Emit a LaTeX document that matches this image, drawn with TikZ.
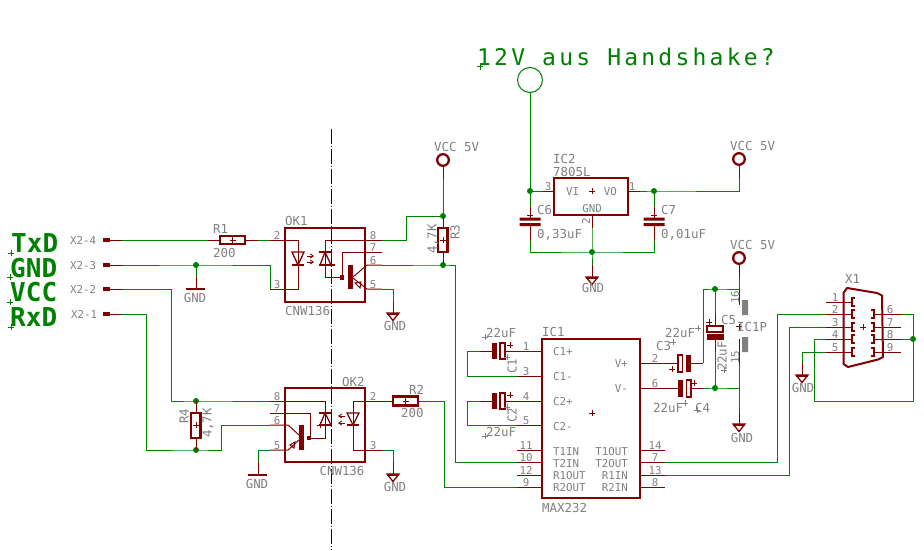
\documentclass[tikz,border=0pt]{standalone}
\usepackage{fontspec}
\usetikzlibrary{arrows.meta}
\newfontfamily\lf{DejaVu Sans Mono}
\newfontfamily\tf[LetterSpace=14]{DejaVu Sans Mono}
\definecolor{mar}{RGB}{128,0,0}
\definecolor{grn}{RGB}{0,128,0}
\definecolor{gry}{RGB}{128,128,128}
\definecolor{nav}{RGB}{0,0,128}
\tikzset{
 wire/.style={draw=grn,line width=1pt},
 pin/.style={draw=mar,line width=1pt},
 sym/.style={draw=mar,line width=2.4pt,line join=miter},
 hsym/.style={draw=mar,line width=1.3pt},
 tip/.style={mar,line width=.9pt,-{Straight Barb[length=3pt,width=4pt]}},
 lbl/.style={font=\lf\fontsize{10.8}{12}\selectfont,text=gry,inner sep=0pt,text height=8pt,text depth=0pt,anchor=west},
 big/.style={font=\lf\fontsize{12.4}{13}\selectfont,text=gry,inner sep=0pt,text height=9pt,text depth=0pt,anchor=west},
 sig/.style={font=\lf\bfseries\fontsize{26}{26}\selectfont,text=grn,inner sep=0pt,text height=19pt,text depth=0pt,anchor=west},
 vert/.style={rotate=90,anchor=center},
}
\newcommand\tl[4][]{\node[lbl,#1] (#2) at (#3) {#4};}
\newcommand\tb[4][]{\node[big,#1] (#2) at (#3) {#4};}
\newcommand\jct[2]{\coordinate (#1) at (#2); \fill[grn] (#1) circle (3pt);}
\newcommand\pt[2]{\coordinate (#1) at (#2);}
\newcommand\mk[3][gry]{\draw[#1,line width=1pt] (#2-3,#3) -- (#2+3,#3) (#2,#3-3) -- (#2,#3+3);}
\newcommand\gnd[3]{\coordinate (#1) at (#2,#3); \draw[hsym] (#1) ++(-6,0) -- ++(12,0) -- ++(-6,7.5) -- cycle; \draw[sym,line width=2pt] (#1) ++(-6,.5) -- ++(12,0);}
\newcommand\vcc[3]{\coordinate (#1) at (#2,#3); \draw[mar,line width=2.3pt] (#1) circle (5.8pt);}
\begin{document}
\begin{tikzpicture}[x=1pt,y=-1pt]
\useasboundingbox (0,0) rectangle (924,551);
\fill[white] (0,0) rectangle (924,551);
% isolation axis
\pt{axT}{331,129}\pt{axB}{331,550}
\draw[nav,line width=1pt,dash pattern=on 15pt off 1.5pt on 1.5pt off 2pt] (axT) -- (axB);
% ---- signal labels
\node[sig] (txd) at (11,243) {TxD};
\node[sig] (sgnd) at (10,268) {GND};
\node[sig] (vccs) at (10,292) {VCC};
\node[sig] (rxd) at (10,317) {RxD};
\mk[grn]{11}{253}\mk[grn]{10}{277}\mk[grn]{10}{302}\mk[grn]{11}{327}
% ---- connector X2
\foreach \n/\y in {a/240,b/265,c/289,d/314}{
 \pt{x\n}{103,\y}\pt{xe\n}{122,\y}
 \fill[mar] (103,\y-2) rectangle (110,\y+2);
 \draw[pin] (x\n) -- (xe\n);
}
\tl{x24}{70,240}{X2-4}\tl{x23}{70,265}{X2-3}\tl{x22}{70,289}{X2-2}\tl{x21}{71,314}{X2-1}
% ---- R1
\pt{r1l}{208,240}\pt{r1a}{220,240}\pt{r1b}{245,240}\pt{r1r}{258,240}
\draw[pin] (r1l) -- (r1a) (r1b) -- (r1r);
\draw[sym] (220,236) rectangle (245,244);
\mk[mar]{232.5}{240}
\tb{r1t}{213,229}{R1}\tb{r1v}{213,253}{200}
\draw[wire] (xea) -- (r1l);
% ---- GND net
\jct{j1}{196,265}
\pt{ok1p2}{270,240}\pt{ok1p3}{270,289}\pt{ok1p3w}{270,265}
\draw[wire] (r1r) -- (ok1p2);
\draw[wire] (xeb) -- (j1) -- (ok1p3w) -- (ok1p3);
\pt{g1s}{196,277}\pt{g1}{196,289}
\draw[wire] (j1) -- (g1s);
\draw[pin] (g1s) -- (g1);
\draw[mar,line width=2.4pt] (186,289) -- (205,289);
\tb[anchor=center]{g1t}{195,298}{GND}
% ---- OK1
\draw[sym] (285,228) rectangle (365,302);
\tb{ok1t}{285,221}{OK1}\tb{ok1n}{285,311}{CNW136}
\pt{a8}{382,240}\pt{a7}{382,252}\pt{a6}{382,265}\pt{a5}{382,289}
\draw[pin] (ok1p2) -- (298,240) -- (298,289) -- (ok1p3);
\draw[hsym] (292,252) -- (304,252) -- (298,265) -- cycle;
\draw[sym] (292,265) -- (304,265);
\draw[tip] (307,256) -- (314,256);
\draw[tip] (307,262) -- (314,262);
\draw[pin] (a8) -- (325,240) -- (325,277) -- (342,277);
\draw[hsym] (320,265) -- (331,265) -- (325,252) -- cycle;
\draw[sym,line width=1.6pt] (319,252) -- (331,252);
\draw[sym,line width=1.6pt] (319,265) -- (335,265);
\draw[pin] (a7) -- (342,252) -- (342,277);
\fill[mar] (340,275) rectangle (344,280);
\fill[mar] (348,265) rectangle (353,289);
\draw[pin] (a6) -- (367,265) -- (353,277);
\draw[pin] (a5) -- (367,289) -- (353,278);
\draw[mar,line width=1pt] (355,283) -- (361,282) -- (360,288) -- cycle;
\tl[anchor=center]{n2a}{277,235}{2}\tl[anchor=center]{n3a}{277,284}{3}
\tl[anchor=center]{n8a}{373,235}{8}\tl[anchor=center]{n7a}{373,247}{7}
\tl[anchor=center]{n6a}{373,260}{6}\tl[anchor=center]{n5a}{373,284}{5}
% ---- R3 + VCC
\vcc{v1}{443}{160}
\tb{v1t}{434,147}{VCC 5V}
\pt{v1b}{443,178}
\jct{j2}{443,216}\jct{j3}{443,265}
\pt{r3a}{443,228}\pt{r3b}{443,252}
\draw[pin] (443,166) -- (v1b);
\draw[wire] (v1b) -- (j2);
\draw[pin] (j2) -- (r3a) (r3b) -- (j3);
\draw[sym] (438,228) rectangle (447.5,252);
\mk[mar]{443}{240}
\tb[vert]{r3t}{455,232}{R3}\tb[vert]{r3v}{432,239}{4,7K}
\draw[wire] (a8) -- (406,240) -- (406,216) -- (j2);
\pt{i10}{517,462}
\draw[wire] (a6) -- (j3) -- (455,265) -- (455,462) -- (i10);
% OK1 GND
\gnd{g2}{393}{313}
\tb[anchor=center]{g2t}{395,326}{GND}
\pt{g2s}{393,302}
\draw[wire] (a5) -- (393,289) -- (g2s);
\draw[pin] (g2s) -- (g2);
% ---- wires to OK2
\pt{b8}{270,401}\pt{b7}{270,413}\pt{b6}{270,425}\pt{b5}{270,450}
\jct{j4}{196,401}\jct{j5}{196,450}
\draw[wire] (xec) -- (171,289) -- (171,401) -- (j4) -- (b8);
\draw[wire] (xed) -- (146.5,314) -- (146.5,450) -- (j5) -- (221,450) -- (221,425) -- (b6);
% R4
\draw[pin] (j4) -- (196,413) (196,438) -- (j5);
\draw[sym] (191,413) rectangle (200.5,438);
\mk[mar]{196}{425}
\tb[vert]{r4t}{184,416}{R4}\tb[vert]{r4v}{207,423}{4,7K}
% ---- OK2
\draw[sym] (285,388) rectangle (365,462);
\tb{ok2t}{342,382}{OK2}\tb[anchor=center]{ok2n}{342,471}{CNW136}
\pt{c2}{382,401}\pt{c3}{382,450}
\draw[pin] (b8) -- (325,401) -- (325,438) -- (309,438);
\draw[pin] (b7) -- (310,413) -- (310,438);
\fill[mar] (307,436) rectangle (311,440);
\draw[hsym] (320,425) -- (331,425) -- (325,413) -- cycle;
\draw[sym,line width=1.6pt] (319,413) -- (332,413);
\draw[sym,line width=1.6pt] (319,425) -- (332,425);
\mk[mar]{320}{425}
\fill[mar] (299,425) rectangle (303.5,450);
\draw[pin] (b6) -- (288,425) -- (299,435);
\draw[pin] (b5) -- (288,450) -- (299,440);
\draw[mar,line width=1pt] (290,445) -- (295,442) -- (294,448) -- cycle;
\draw[pin] (c2) -- (353,401) -- (353,450) -- (c3);
\draw[hsym] (347,413) -- (359,413) -- (353,425) -- cycle;
\draw[sym,line width=1.8pt] (347,425) -- (359,425);
\draw[tip] (345,416) -- (338,416);
\draw[tip] (345,423) -- (338,423);
\tl[anchor=center]{n8b}{277,396}{8}\tl[anchor=center]{n7b}{277,408}{7}
\tl[anchor=center]{n6b}{277,420}{6}\tl[anchor=center]{n5b}{277,445}{5}
\tl[anchor=center]{n2b}{373,396}{2}\tl[anchor=center]{n3b}{373,445}{3}
% GND left
\pt{g3s}{258,462}\pt{g3}{258,475}
\draw[wire] (b5) -- (258,450) -- (g3s);
\draw[pin] (g3s) -- (g3);
\draw[mar,line width=2.4pt] (248,475) -- (267,475);
\tb[anchor=center]{g3t}{257,484}{GND}
% GND right
\gnd{g4}{393}{474}
\tb[anchor=center]{g4t}{395,487}{GND}
\pt{g4s}{393,462}
\draw[wire] (c3) -- (393,450) -- (g4s);
\draw[pin] (g4s) -- (g4);
% R2
\draw[pin] (c2) -- (393,401) (418,401) -- (420,401);
\draw[sym] (393,396.5) rectangle (418,405.5);
\mk[mar]{405.5}{401}
\tb{r2t}{409,390}{R2}\tb{r2v}{401,413}{200}
\pt{i9}{517,487}
\draw[wire] (420,401) -- (444,401) -- (444,487) -- (i9);
% ---- IC1
\draw[sym] (542,339) rectangle (640,498);
\tb{ic1t}{542,332}{IC1}\tb{ic1n}{542,508}{MAX232}
\mk[mar]{592}{413}
\foreach \y in {351,376,401,425,450,462,475,487}{\draw[pin] (517,\y) -- (542,\y);}
\foreach \y in {363,388,450,462,475,487}{\draw[pin] (640,\y) -- (665,\y);}
\foreach \n/\tx/\y in {a/C1+/351,b/C1-/376,c/C2+/401,d/C2-/426,e/T1IN/451,f/T2IN/463,g/R1OUT/475,h/R2OUT/487}{\tl{il\n}{553,\y}{\tx}}
\foreach \n/\tx/\y in {a/V+/363,b/V-/388,c/T1OUT/451,d/T2OUT/463,e/R1IN/475,f/R2IN/487}{\tl[anchor=east]{ir\n}{628,\y}{\tx}}
\foreach \tx/\y in {1/346,3/371,4/396,5/420,11/445,10/457,12/470,9/482}{\tl[anchor=center]{pl\tx}{526,\y}{\tx}}
\foreach \tx/\y in {2/358,6/383,14/445,7/457,13/470,8/482}{\tl[anchor=center]{pr\tx}{655,\y}{\tx}}
% C1 C2
\foreach \n/\y/\z in {a/351/376,b/401/425}{
 \fill[mar] (492,\y-8) rectangle (497,\y+8);
 \draw[hsym,line width=1.8pt] (500,\y-8) rectangle (505,\y+8);
 \draw[pin] (505,\y) -- (517,\y) (492,\y) -- (480,\y);
 \pt{cc\n}{480,\y}\pt{ce\n}{517,\z}
 \draw[wire] (cc\n) -- (467,\y) -- (467,\z) -- (ce\n);
}
\mk[mar]{510}{345}\mk[mar]{510}{395}\mk{507}{357}\mk{507}{407}\mk{485}{337}\mk{485}{436}
\tb{c1v}{486,333}{22uF}\tb{c2v}{486,432}{22uF}
\tb[vert]{c1t}{512,366}{C1}\tb[vert]{c2t}{512,415}{C2}
% ---- C3 C4 C5, IC1P
\vcc{v3}{739}{258}
\tb{v3t}{730,245}{VCC 5V}
\pt{t1}{739,277}\jct{j6}{715,289}\pt{t2}{739,289}\pt{t3}{739,305}
\pt{t4}{739,339}\pt{t5}{739,364}\jct{j7}{715,388}\pt{t6}{739,388}\pt{t7}{739,413}
\draw[pin] (739,264) -- (t1) (t2) -- (t3) (t4) -- (t5);
\draw[wire] (t1) -- (t2) -- (j6) -- (703,289) -- (703,363);
\draw[wire] (t5) -- (t6) -- (j7) -- (703,388);
\draw[wire] (t6) -- (t7);
\gnd{g5}{739}{424}
\draw[pin] (t7) -- (g5);
\tb[anchor=center]{g5t}{742,438}{GND}
\draw[pin] (665,363) -- (678,363) (691,363) -- (703,363);
\draw[hsym,line width=1.8pt] (678,355) rectangle (682.5,372);
\fill[mar] (686,355) rectangle (691,372);
\draw[pin] (665,388) -- (678,388) (691,388) -- (703,388);
\fill[mar] (678,380) rectangle (683,397);
\draw[hsym,line width=1.8pt] (686.5,380) rectangle (691,397);
\draw[wire] (j6) -- (715,315);
\draw[pin] (715,315) -- (715,326) (715,340) -- (715,352);
\draw[hsym,line width=1.8pt] (707,326) rectangle (723,332);
\fill[mar] (707,334) rectangle (724,340);
\draw[wire] (715,352) -- (j7);
\fill[gry] (742,300) rectangle (748,315) (742,337) rectangle (748,352);
\mk[mar]{739}{326.5}\mk[mar]{672}{369}\mk[mar]{709}{322}\mk[mar]{694}{383}
\mk{698}{328}\mk{673}{342}\mk{724}{370}\mk{685}{403}\mk{697}{410}
\tl[vert]{p16}{735,297}{16}\tl[vert]{p15}{735,357}{15}
\tb{ic1p}{737,327}{IC1P}\tb{c5t}{721,320}{C5}
\tb[vert]{c5v}{722,356}{22uF}
\tb{c3v}{665,333}{22uF}\tb{c3t}{656,346}{C3}
\tb{c4v}{653,408}{22uF}\tb{c4t}{695,408}{C4}
% ---- IC2
\node[font=\tf\fontsize{23}{23}\selectfont,text=grn,inner sep=0pt,text height=16pt,text depth=0pt,anchor=west] (title) at (477,58) {12V aus Handshake?};
\mk[grn]{480}{67}
\node[draw=grn,line width=1pt,circle,minimum size=25pt,inner sep=0pt] (o12) at (530,80) {};
\jct{j8}{530,191}\pt{p3}{543,191}\pt{p1}{640,191}\jct{j9}{654,191}
\draw[wire] (o12) -- (j8) -- (p3);
\draw[pin] (p3) -- (554,191) (628,191) -- (p1);
\draw[sym] (554,178) rectangle (628,215);
\mk[mar]{592}{191}
\vcc{v2}{739}{159}
\tb{v2t}{730,146}{VCC 5V}
\pt{v2b}{739,178}
\draw[pin] (739,165) -- (v2b);
\draw[wire] (p1) -- (j9) -- (739,191) -- (v2b);
\tb{ic2t}{553,159}{IC2}\tb{ic2n}{553,172}{7805L}
\tl{vi}{566,191}{VI}\tl[anchor=east]{vo}{617,191}{VO}\tl[anchor=center]{gn}{592,208}{GND}
\tl[anchor=center]{q3}{548,186}{3}\tl[anchor=center]{q1}{632,186}{1}\tl[vert]{q2}{586,221}{2}
% C6 C7
\foreach \n/\x in {a/530,b/654}{
 \pt{ca\n}{\x,207}\pt{cb\n}{\x,241}
 \draw[pin] (ca\n) -- (\x,219) (\x,224) -- (cb\n);
 \fill[mar] (\x-10.5,217.5) rectangle (\x+10.5,220.5) (\x-10.5,223) rectangle (\x+10.5,226);
 \mk[mar]{\x}{215}
}
\draw[wire] (j8) -- (caa);
\draw[wire] (j9) -- (cab);
\jct{j10}{592,252}
\draw[wire] (cba) -- (530,252) -- (j10) -- (654,252) -- (cbb);
\pt{q2t}{592,228}\pt{q2b}{592,265}
\draw[pin] (592,215) -- (q2t);
\draw[wire] (q2t) -- (j10) -- (q2b);
\gnd{g6}{592}{277}
\draw[pin] (q2b) -- (g6);
\tb[anchor=center]{g6t}{593,288}{GND}
\tb{c6t}{537,210}{C6}\tb{c6v}{537,234}{0,33uF}
\tb{c7t}{661,210}{C7}\tb{c7v}{661,234}{0,01uF}
% ---- X1
\foreach \n/\y in {1/302,2/314,3/327,4/339,5/352}{
 \pt{xl\n}{826,\y}
 \draw[pin] (xl\n) -- (851,\y);
 \draw[mar,line width=1.6pt] (855,\y-4) -- (852,\y-4) -- (852,\y+4) -- (855,\y+4);
 \tl[anchor=center]{xn\n}{835,\y-5}{\n}
}
\foreach \n/\y in {6/314,7/327,8/339,9/352}{
 \pt{xr\n}{901,\y}
 \draw[pin] (xr\n) -- (875,\y);
 \draw[mar,line width=1.6pt] (871,\y-4) -- (874,\y-4) -- (874,\y+4) -- (871,\y+4);
 \tl[anchor=center]{xn\n}{890,\y-5}{\n}
}
\draw[mar,line width=2pt,line join=round] (843.5,293) -- (847,288) -- (877,293) -- (882,295.5) -- (883,357) -- (878,359.5) -- (848,367) -- (843.5,364) -- cycle;
\mk[mar]{863}{327}
\tb{x1t}{845,279}{X1}
\jct{j11}{913,339}
\draw[wire] (665,462) -- (777,462) -- (777,314) -- (xl2);
\draw[wire] (665,475) -- (789,475) -- (789,327) -- (xl3);
\draw[wire] (xl4) -- (814,339) -- (814,401) -- (913,401) -- (j11) -- (xr8);
\draw[wire] (j11) -- (913,314) -- (xr6);
\pt{g7s}{802,363}
\draw[wire] (xl5) -- (802,352) -- (g7s);
\gnd{g7}{802}{375}
\draw[pin] (g7s) -- (g7);
\tb[anchor=center]{g7t}{803,388}{GND}
\end{tikzpicture}
\end{document}
